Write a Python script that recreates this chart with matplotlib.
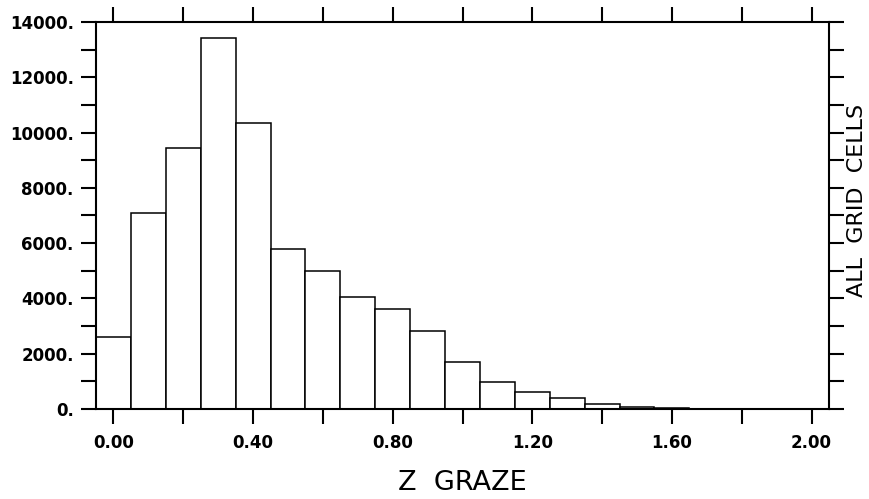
import numpy as np
import matplotlib
matplotlib.use("Agg")
import matplotlib.pyplot as plt
from matplotlib.ticker import MultipleLocator, FuncFormatter

# Histogram data (bin centers, width 0.1)
bin_centers = [0.0, 0.1, 0.2, 0.3, 0.4, 0.5, 0.6, 0.7, 0.8, 0.9, 1.0,
               1.1, 1.2, 1.3, 1.4, 1.5, 1.6, 1.7, 1.8, 1.9, 2.0]
counts = [2600, 7080, 9450, 13430, 10330, 5800, 5010, 4045, 3630, 2830, 1690,
          970, 605, 415, 175, 80, 25, 5, 0, 0, 0]
bin_width = 0.1

x_label = "Z  GRAZE"
y_label = "ALL  GRID  CELLS"

fig = plt.figure(figsize=(8.69, 4.99), dpi=100)
ax = fig.add_axes([96 / 869, 1 - 409 / 499, 733 / 869, 387 / 499])

ax.bar(bin_centers, counts, width=bin_width, facecolor="white",
       edgecolor="black", linewidth=1.1, align="center")

ax.set_xlim(-0.05, 2.05)
ax.set_ylim(0, 14000)

# Ticks: x major 0.4 (labelled), minor 0.2 ; y major 2000 (labelled), minor 1000
ax.xaxis.set_major_locator(MultipleLocator(0.4))
ax.xaxis.set_minor_locator(MultipleLocator(0.2))
ax.yaxis.set_major_locator(MultipleLocator(2000))
ax.yaxis.set_minor_locator(MultipleLocator(1000))
ax.xaxis.set_major_formatter(FuncFormatter(lambda v, p: "%.2f" % v))
ax.yaxis.set_major_formatter(FuncFormatter(lambda v, p: "%d." % round(v)))

ax.tick_params(which="both", direction="out", length=10.5, width=1.5,
               top=True, right=True, labeltop=False, labelright=False)
ax.tick_params(axis="x", which="major", pad=7.5)
ax.tick_params(axis="y", which="major", pad=5.5)

for lab in ax.get_xticklabels() + ax.get_yticklabels():
    lab.set_fontweight("bold")
    lab.set_fontsize(12)
    lab.set_family("DejaVu Sans")

for sp in ax.spines.values():
    sp.set_linewidth(1.5)

# Axis titles
fig.text(462 / 869, 1 - 483 / 499, x_label, ha="center", va="center",
         fontsize=19.5)
fig.text(857 / 869, 1 - 200 / 499, y_label, ha="center", va="center",
         rotation=90, fontsize=16)

fig.savefig("out.png", dpi=100)
